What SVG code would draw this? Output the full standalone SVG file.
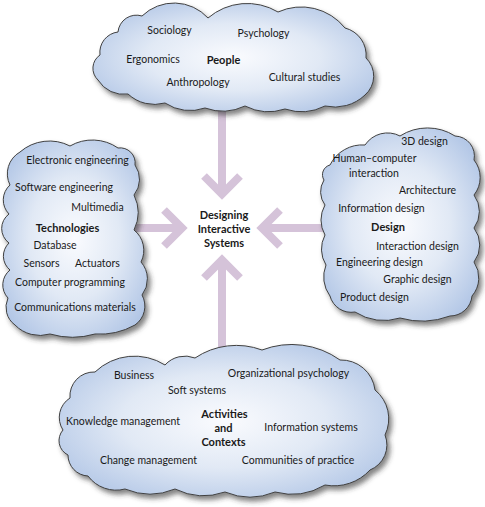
<svg xmlns="http://www.w3.org/2000/svg" width="485" height="507" viewBox="0 0 485 507">
<defs>
<radialGradient id="cloudFill" cx="0.5" cy="0.5" r="0.62">
<stop offset="0" stop-color="#fafbfe"/>
<stop offset="0.5" stop-color="#e1e9f5"/>
<stop offset="1" stop-color="#afc4e5"/>
</radialGradient>
<filter id="shadow" x="-10%" y="-10%" width="125%" height="125%">
<feDropShadow dx="3" dy="4" stdDeviation="2.5" flood-color="#333" flood-opacity="0.6"/>
</filter>
</defs>
<style>
.cloud{fill:url(#cloudFill);stroke:#404040;stroke-width:1;filter:url(#shadow)}
.arrow{fill:none;stroke:#d5c3d9;stroke-width:8;stroke-linecap:butt;stroke-linejoin:miter;stroke-miterlimit:10}
text{font-family:Lato,"Open Sans","Liberation Sans",sans-serif;font-size:10.5px;fill:#1a1a1a;text-anchor:middle}
.b{font-weight:bold;font-size:11px}
</style>
<rect width="485" height="507" fill="#ffffff"/>
<g id="connectors">
<path class="arrow" d="M222,105 V194 M204,176 L222,194 L240,176"/>
<path class="arrow" d="M130,228 H182 M164,210 L182,228 L164,246"/>
<path class="arrow" d="M328,228 H262 M280,210 L262,228 L280,246"/>
<path class="arrow" d="M222,352 V260 M204,278 L222,260 L240,278"/>
</g>
<g id="people">
<path class="cloud" d="M98,80 A16,16 0 0 1 100,55 A20.5,20.5 0 0 1 118,32 A18.5,18.5 0 0 1 142,16 A46,46 0 0 1 208,18 A60,60 0 0 1 278,12 A56,56 0 0 1 345,28 A28,28 0 0 1 366,58 A25,25 0 0 1 365,95 A44,44 0 0 1 325,106 A52,52 0 0 1 285,109 A52,52 0 0 1 245,106 A52,52 0 0 1 205,108 A45,45 0 0 1 165,103 A39,39 0 0 1 128,94 A30,30 0 0 1 98,80 Z"/>
<text x="169.5" y="34">Sociology</text>
<text x="263.5" y="37">Psychology</text>
<text x="153" y="62.5">Ergonomics</text>
<text class="b" x="223.5" y="64">People</text>
<text x="198" y="85.5">Anthropology</text>
<text x="304.5" y="80.5">Cultural studies</text>
</g>
<g id="technologies">
<path class="cloud" d="M10,185 A25,25 0 0 1 20,152 A45,45 0 0 1 70,146 A45,45 0 0 1 118,148 A15,15 0 0 1 135,165 A25,25 0 0 1 134,195 A40,40 0 0 1 134,230 A26,26 0 0 1 141,262 A26,26 0 0 1 142,295 A23,23 0 0 1 135,325 A72,72 0 0 1 95,334 A80,80 0 0 1 50,334 A35,35 0 0 1 15,325 A22,22 0 0 1 8,298 A19,19 0 0 1 10,270 A18,18 0 0 1 9,243 A18,18 0 0 1 9,214 A20,20 0 0 1 10,185 Z"/>
<text x="77.5" y="163.5">Electronic engineering</text>
<text x="64" y="190.5">Software engineering</text>
<text x="97.5" y="210.5">Multimedia</text>
<text class="b" x="67.5" y="232">Technologies</text>
<text x="55" y="248.5">Database</text>
<text x="41.5" y="266.5">Sensors</text>
<text x="97.5" y="266.5">Actuators</text>
<text x="70" y="285.5">Computer programming</text>
<text x="75" y="310.5">Communications materials</text>
</g>
<g id="design">
<path class="cloud" d="M330,165 A36,36 0 0 1 365,145 A27,27 0 0 1 400,136 A51,51 0 0 1 455,136 A20,20 0 0 1 474,160 A28,28 0 0 1 474,195 A28,28 0 0 1 474,228 A28,28 0 0 1 474,262 A28,28 0 0 1 472,296 A22,22 0 0 1 450,316 A80,80 0 0 1 400,318 A53,53 0 0 1 355,312 A22,22 0 0 1 330,296 A32,32 0 0 1 326,265 A30,30 0 0 1 325,235 A30,30 0 0 1 325,205 A22,22 0 0 1 324,180 A10,10 0 0 1 330,165 Z"/>
<text x="424.5" y="144.5">3D design</text>
<text x="374.5" y="161.5">Human–computer</text>
<text x="374" y="176.5">interaction</text>
<text x="427.5" y="193.5">Architecture</text>
<text x="381.5" y="211.5">Information design</text>
<text class="b" x="388" y="231">Design</text>
<text x="417.5" y="249.5">Interaction design</text>
<text x="379.5" y="265.5">Engineering design</text>
<text x="417.5" y="282.5">Graphic design</text>
<text x="374.5" y="300.5">Product design</text>
</g>
<g id="activities">
<path class="cloud" d="M63,430 A23,23 0 0 1 70,398 A24,24 0 0 1 95,372 A57,57 0 0 1 165,365 A27,27 0 0 1 195,358 A74,74 0 0 1 262,350 A83,83 0 0 1 340,360 A34,34 0 0 1 375,390 A37,37 0 0 1 385,435 A27,27 0 0 1 370,470 A49,49 0 0 1 325,485 A65,65 0 0 1 275,492 A65,65 0 0 1 225,492 A65,65 0 0 1 175,489 A65,65 0 0 1 125,489 A35,35 0 0 1 88,476 A21,21 0 0 1 68,455 A16,16 0 0 1 63,430 Z"/>
<text x="134" y="378.5">Business</text>
<text x="288.5" y="376.5">Organizational psychology</text>
<text x="197" y="394">Soft systems</text>
<text class="b" x="224.5" y="417.5">Activities</text>
<text class="b" x="223.5" y="431.5">and</text>
<text class="b" x="223.5" y="446">Contexts</text>
<text x="123" y="425">Knowledge management</text>
<text x="311" y="430.5">Information systems</text>
<text x="148.5" y="464">Change management</text>
<text x="298" y="464">Communities of practice</text>
</g>
<g id="center">
<text class="b" x="224" y="219">Designing</text>
<text class="b" x="224" y="233">Interactive</text>
<text class="b" x="224" y="247">Systems</text>
</g>
</svg>
